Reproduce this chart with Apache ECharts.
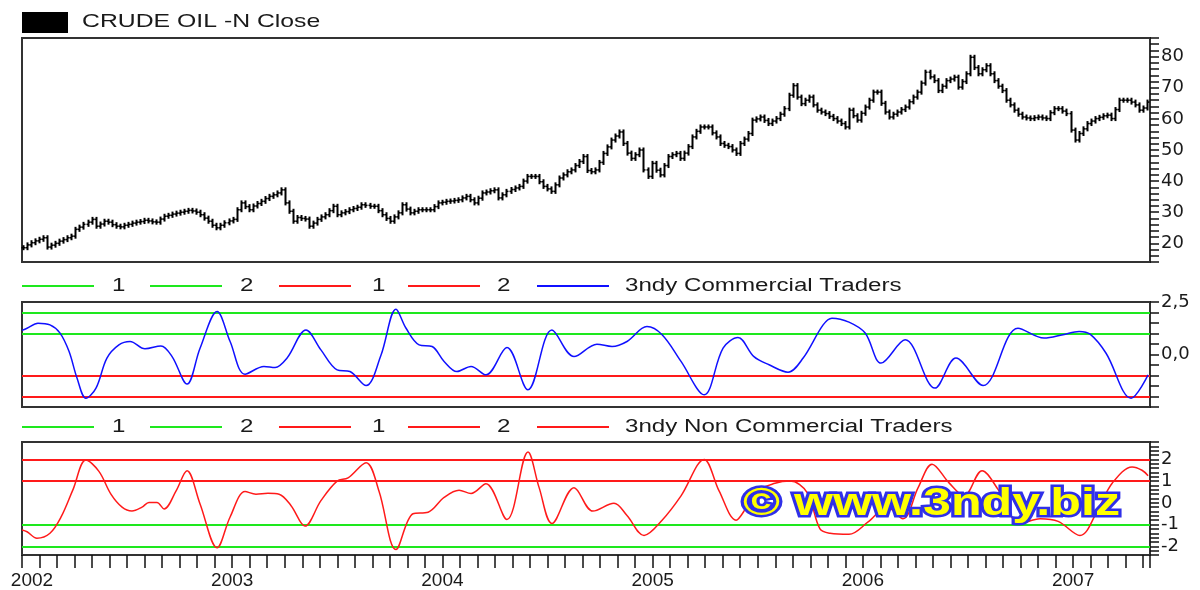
<!DOCTYPE html>
<html><head><meta charset="utf-8">
<script src="https://cdn.jsdelivr.net/npm/echarts@6/dist/echarts.min.js"></script>
<style>html,body{margin:0;padding:0;background:#fff}#c{width:1200px;height:590px}</style>
</head><body><div id="c"></div>
<script>
// ---------------- data ----------------
const titleText = 'CRUDE OIL -N Close';
const commName = '3ndy Commercial Traders';
const nonCommName = '3ndy Non Commercial Traders';
const bandLabels = ['1', '2', '1', '2'];
const watermarkText = '\u00A9 www.3ndy.biz';

const xStart = 2002, xEnd = 2007.366;   // decimal years
const firstWeek = 2002.005;             // date of first weekly bar (decimal year)
const weekStep = 7 / 365.25;            // one week in years

// weekly closes, Jan 2002 .. May 2007
const priceClose = [
  18.6, 19.5, 20.2, 20.8, 21.3, 21.8, 18.8, 19.4, 20.0, 20.7,
  21.2, 21.8, 22.3, 24.5, 25.2, 26.1, 26.8, 27.7, 25.5, 26.2,
  27.1, 26.8, 26.0, 25.5, 25.3, 25.8, 26.1, 26.5, 26.8, 27.0,
  27.4, 27.2, 26.9, 26.8, 27.8, 28.7, 29.0, 29.4, 29.7, 30.0,
  30.3, 30.6, 30.4, 30.0, 29.2, 28.1, 27.1, 25.8, 25.0, 25.8,
  26.6, 27.2, 27.7, 30.8, 33.0, 31.8, 30.8, 32.0, 32.8, 33.5,
  34.4, 35.1, 35.6, 36.2, 37.2, 33.0, 30.3, 27.1, 28.3, 28.0,
  27.8, 25.5, 26.5, 27.7, 28.5, 29.2, 30.5, 31.9, 29.2, 29.8,
  30.2, 30.8, 31.2, 31.6, 32.4, 32.2, 31.9, 31.9, 30.5, 29.2,
  28.0, 27.1, 28.5, 29.8, 32.4, 31.0, 29.8, 30.3, 30.8, 30.8,
  30.8, 30.8, 31.8, 33.0, 33.2, 33.5, 33.6, 33.8, 34.0, 34.6,
  35.1, 34.0, 33.0, 34.5, 36.2, 36.5, 36.9, 37.2, 34.6, 35.6,
  36.7, 37.3, 37.8, 38.3, 40.0, 41.5, 41.5, 41.5, 39.8, 38.3,
  37.5, 36.7, 38.8, 41.0, 42.0, 43.0, 43.6, 45.0, 46.3, 47.9,
  43.4, 43.0, 43.6, 46.0, 48.9, 51.0, 53.2, 54.5, 55.8, 52.1,
  49.0, 47.3, 48.5, 50.0, 43.6, 41.5, 45.7, 43.5, 42.0, 45.0,
  47.9, 48.5, 48.9, 47.3, 49.0, 51.1, 54.2, 56.0, 57.4, 57.4,
  57.4, 55.5, 54.2, 52.1, 51.5, 51.1, 50.0, 48.9, 52.1, 53.5,
  55.3, 59.6, 60.0, 60.6, 59.5, 58.5, 59.3, 60.1, 61.5, 63.3,
  67.6, 70.7, 67.0, 64.9, 66.0, 67.0, 64.5, 62.8, 62.2, 61.7,
  60.8, 60.1, 59.3, 58.5, 57.4, 62.8, 61.0, 59.6, 61.8, 63.8,
  66.0, 68.6, 68.6, 65.0, 62.2, 60.6, 61.5, 62.2, 63.0, 63.8,
  65.5, 67.0, 68.6, 71.5, 75.0, 73.5, 72.3, 69.1, 70.5, 72.3,
  72.8, 73.4, 70.2, 72.0, 74.5, 79.8, 76.5, 74.5, 75.8, 77.1,
  74.5, 72.3, 70.5, 69.1, 66.0, 64.5, 62.8, 61.5, 60.6, 60.3,
  60.1, 60.4, 60.6, 60.3, 60.1, 62.0, 63.3, 63.3, 62.5, 61.7,
  56.4, 53.2, 55.3, 56.8, 58.5, 59.3, 60.1, 60.5, 61.0, 61.2,
  60.1, 63.0, 66.0, 66.0, 66.0, 65.4, 64.5, 62.8, 63.5, 65.4
];

// 3ndy Commercial Traders (blue): reading dates (decimal years) and values
const commT = [2002.000, 2002.024, 2002.076, 2002.133, 2002.181, 2002.224, 2002.262, 2002.304, 2002.352, 2002.404,
  2002.461, 2002.514, 2002.585, 2002.661, 2002.714, 2002.785, 2002.847, 2002.928, 2002.990, 2003.061,
  2003.151, 2003.204, 2003.261, 2003.351, 2003.422, 2003.499, 2003.560, 2003.637, 2003.708, 2003.779,
  2003.827, 2003.889, 2003.951, 2004.008, 2004.069, 2004.136, 2004.207, 2004.307, 2004.407, 2004.521,
  2004.626, 2004.735, 2004.807, 2004.878, 2004.973, 2005.045, 2005.135, 2005.245, 2005.335, 2005.406,
  2005.482, 2005.554, 2005.644, 2005.716, 2005.811, 2005.853, 2005.934, 2006.011, 2006.087, 2006.201,
  2006.343, 2006.443, 2006.572, 2006.738, 2006.862, 2006.952, 2007.029, 2007.081, 2007.157, 2007.276, 2007.357];
const commV = [1.15, 1.25, 1.49, 1.41, 1.02, 0.14, -1.13, -2.08, -1.6, -0.17,
  0.46, 0.62, 0.27, 0.41, -0.1, -1.41, 0.3, 2.05, 0.62, -0.94,
  -0.57, -0.62, -0.17, 1.17, 0.22, -0.73, -0.81, -1.48, -0.02, 2.16,
  1.25, 0.46, 0.38, -0.33, -0.81, -0.57, -0.97, 0.33, -1.68, 1.17,
  -0.1, 0.49, 0.38, 0.62, 1.33, 0.94, -0.33, -1.92, 0.3, 0.81,
  -0.1, -0.49, -0.84, -0.17, 1.41, 1.73, 1.54, 1.02, -0.41, 0.7,
  -1.6, -0.17, -1.48, 1.25, 0.78, 0.94, 1.1, 0.97, 0.06, -2.08, -0.97];

// 3ndy Non Commercial Traders (red)
const nonT = [2002.000, 2002.024, 2002.071, 2002.133, 2002.186, 2002.243, 2002.304, 2002.366, 2002.423, 2002.476,
  2002.523, 2002.571, 2002.604, 2002.642, 2002.676, 2002.733, 2002.785, 2002.847, 2002.928, 2002.990,
  2003.061, 2003.113, 2003.170, 2003.223, 2003.280, 2003.346, 2003.422, 2003.499, 2003.551, 2003.637,
  2003.698, 2003.779, 2003.860, 2003.932, 2004.008, 2004.079, 2004.136, 2004.207, 2004.307, 2004.407,
  2004.460, 2004.521, 2004.626, 2004.716, 2004.816, 2004.878, 2004.959, 2005.045, 2005.135, 2005.245,
  2005.316, 2005.397, 2005.440, 2005.487, 2005.582, 2005.654, 2005.735, 2005.796, 2005.844, 2005.934,
  2006.025, 2006.115, 2006.191, 2006.263, 2006.329, 2006.410, 2006.481, 2006.567, 2006.643, 2006.748,
  2006.843, 2006.929, 2007.033, 2007.119, 2007.186, 2007.281, 2007.328, 2007.357];
const nonV = [-1.25, -1.33, -1.63, -1.4, -0.65, 0.62, 1.97, 1.45, 0.4, -0.2,
  -0.38, -0.2, 0.02, 0.02, -0.28, 0.55, 1.48, -0.05, -2.07, -0.65,
  0.52, 0.4, 0.44, 0.4, -0.13, -1.07, 0.1, 1.0, 1.15, 1.85,
  0.55, -2.15, -0.5, -0.43, 0.25, 0.58, 0.43, 0.88, -0.77, 2.34,
  0.7, -0.95, 0.7, -0.38, -0.02, -0.58, -1.5, -0.8, 0.32, 2.0,
  0.55, -0.8, -0.3, 0.5, 0.9, 1.0, 0.47, -1.2, -1.4, -1.45,
  -0.88, -0.2, -0.73, 0.7, 1.78, 0.92, 0.32, 1.48, 0.62, -0.95,
  -0.73, -0.85, -1.5, -0.3, 0.9, 1.65, 1.5, 1.25];

// band levels
const commGreenLevels = [2, 1];
const commRedLevels = [-1, -2];
const nonRedLevels = [2, 1];
const nonGreenLevels = [-1, -2];

// ---------------- build ----------------
const GREEN = '#1ee81e', RED = '#ff1a1a', BLUE = '#1010ff', INK = '#1a1a1a';
const TXT_FONT = '"Liberation Sans", Arial, sans-serif';
const AX_FONT = '"DejaVu Sans", sans-serif';
const YR_FONT = '"Liberation Sans Narrow", "Arial Narrow", "Liberation Sans", sans-serif';

const priceBars = priceClose.map((c, i) => {
  const o = i > 0 ? priceClose[i - 1] : c;
  return [firstWeek + i * weekStep, o, c];
});
const zip = (a, b) => a.slice(0, Math.min(a.length, b.length)).map((t, i) => [t, b[i]]);

function bandLines(levels, color) {
  return levels.map(v => ({ yAxis: v, lineStyle: { color: color, width: 2, type: 'solid' } }));
}

function hiddenX(gi) {
  return { type: 'value', gridIndex: gi, min: xStart, max: xEnd, interval: 1 / 12, position: 'bottom',
    axisLine: { show: false, onZero: false }, axisTick: { show: false }, axisLabel: { show: false }, splitLine: { show: false } };
}

const legendLineX = [22, 150, 279, 408, 537];
const legendTextX = [112, 240, 372, 497, 625];
function legendRow(y, colors, texts) {
  const els = [];
  colors.forEach((col, k) => {
    els.push({ type: 'line', shape: { x1: legendLineX[k], y1: y, x2: legendLineX[k] + 72, y2: y },
      style: { stroke: col, lineWidth: 2 } });
    els.push({ type: 'text', x: legendTextX[k], y: y, scaleX: 1.34,
      style: { text: texts[k], font: '18px ' + TXT_FONT, fill: INK,
        align: 'left', verticalAlign: 'middle', textAlign: 'left', textVerticalAlign: 'middle' } });
  });
  return els;
}

const graphics = [
  { type: 'rect', shape: { x: 22, y: 12, width: 46, height: 21 }, style: { fill: '#000' } },
  { type: 'text', x: 82, y: 22, scaleX: 1.34,
    style: { text: titleText, font: '18.5px ' + TXT_FONT, fill: INK,
      align: 'left', verticalAlign: 'middle', textAlign: 'left', textVerticalAlign: 'middle' } }
].concat(
  legendRow(286, [GREEN, GREEN, RED, RED, BLUE], bandLabels.concat([commName])),
  legendRow(427, [GREEN, GREEN, RED, RED, RED], bandLabels.concat([nonCommName])),
  [{ type: 'text', x: 743, y: 505, scaleX: 1.32, z: 100,
     style: { text: watermarkText, font: 'bold 38px ' + TXT_FONT, fill: '#ffff00',
       stroke: '#3030e8', lineWidth: 5, strokeFirst: true,
       align: 'left', verticalAlign: 'middle', textAlign: 'left', textVerticalAlign: 'middle',
       shadowBlur: 3, shadowColor: 'rgba(40,40,255,0.6)' } }]
);

const gridCommon = { show: true, borderColor: '#333', borderWidth: 2, backgroundColor: '#fff' };

const option = {
  animation: false,
  backgroundColor: '#fff',
  grid: [
    Object.assign({ left: 22, top: 38, width: 1128, height: 224 }, gridCommon),
    Object.assign({ left: 22, top: 302, width: 1128, height: 105 }, gridCommon),
    Object.assign({ left: 22, top: 442, width: 1128, height: 114 }, gridCommon)
  ],
  xAxis: [
    hiddenX(0), hiddenX(1),
    { type: 'value', gridIndex: 2, min: xStart, max: xEnd, interval: 1 / 12, position: 'bottom',
      axisLine: { show: false, onZero: false },
      axisTick: { show: true, length: 13, lineStyle: { color: '#111', width: 1.5 } },
      splitLine: { show: false },
      axisLabel: { show: true, margin: 16, color: INK, fontFamily: YR_FONT, fontSize: 19,
        formatter: function (v) {
          const r = Math.round(v);
          if (Math.abs(v - r) < 0.004) return r === 2002 ? '{f|' + r + '}' : String(r);
          return '';
        },
        rich: { f: { padding: [0, 0, 0, 20], fontFamily: YR_FONT, fontSize: 19, color: INK } } } }
  ],
  yAxis: [
    { type: 'value', gridIndex: 0, position: 'right', min: 14, max: 86, interval: 2,
      axisLine: { show: true, lineStyle: { color: '#333', width: 2 } },
      axisTick: { show: true, length: 9, lineStyle: { color: '#111', width: 1.5 } },
      splitLine: { show: false },
      axisLabel: { margin: 11, color: INK, fontFamily: AX_FONT, fontSize: 18,
        formatter: v => (Math.round(v) % 10 === 0 ? String(Math.round(v)) : '') } },
    { type: 'value', gridIndex: 1, position: 'right', min: -2.5, max: 2.5, interval: 0.5,
      axisLine: { show: true, lineStyle: { color: '#333', width: 2 } },
      axisTick: { show: true, length: 9, lineStyle: { color: '#111', width: 1.5 } },
      splitLine: { show: false },
      axisLabel: { margin: 11, color: INK, fontFamily: AX_FONT, fontSize: 18,
        formatter: v => (Math.abs(v - 2.5) < 1e-6 ? '2,5' : (Math.abs(v) < 1e-6 ? '0,0' : '')) } },
    { type: 'value', gridIndex: 2, position: 'right', min: -2.4, max: 2.8, interval: 0.2,
      axisLine: { show: true, lineStyle: { color: '#333', width: 2 } },
      axisTick: { show: true, length: 9, lineStyle: { color: '#111', width: 1.5 } },
      splitLine: { show: false },
      axisLabel: { margin: 11, color: INK, fontFamily: AX_FONT, fontSize: 18,
        formatter: v => { const r = Math.round(v); return Math.abs(v - r) < 1e-6 ? String(r) : ''; } } }
  ],
  graphic: { elements: graphics },
  series: [
    { type: 'custom', name: titleText, xAxisIndex: 0, yAxisIndex: 0, data: priceBars,
      encode: { x: 0, y: [1, 2] },
      renderItem: function (params, api) {
        const t = api.value(0), o = api.value(1), c = api.value(2);
        const po = api.coord([t, o]), pc = api.coord([t, c]);
        const x = Math.round(po[0]) + 0.5;
        const top = Math.min(po[1], pc[1]) - 2.5, bot = Math.max(po[1], pc[1]) + 2.5;
        return { type: 'group', children: [
          { type: 'line', shape: { x1: x, y1: top, x2: x, y2: bot }, style: { stroke: '#000', lineWidth: 2 } },
          { type: 'line', shape: { x1: x - 2, y1: po[1], x2: x, y2: po[1] }, style: { stroke: '#000', lineWidth: 1.5 } },
          { type: 'line', shape: { x1: x, y1: pc[1], x2: x + 2, y2: pc[1] }, style: { stroke: '#000', lineWidth: 1.5 } }
        ] };
      } },
    { type: 'line', name: commName, xAxisIndex: 1, yAxisIndex: 1, data: zip(commT, commV),
      smooth: 0.35, showSymbol: false, symbol: 'none',
      lineStyle: { color: BLUE, width: 1.5 }, z: 3,
      markLine: { silent: true, symbol: ['none', 'none'], label: { show: false }, z: 2,
        data: bandLines(commGreenLevels, GREEN).concat(bandLines(commRedLevels, RED)) } },
    { type: 'line', name: nonCommName, xAxisIndex: 2, yAxisIndex: 2, data: zip(nonT, nonV),
      smooth: 0.35, showSymbol: false, symbol: 'none',
      lineStyle: { color: RED, width: 1.5 }, z: 3,
      markLine: { silent: true, symbol: ['none', 'none'], label: { show: false }, z: 2,
        data: bandLines(nonRedLevels, RED).concat(bandLines(nonGreenLevels, GREEN)) } }
  ]
};

const chart = echarts.init(document.getElementById('c'), null, { renderer: 'canvas' });
chart.setOption(option);
</script>
</body></html>
